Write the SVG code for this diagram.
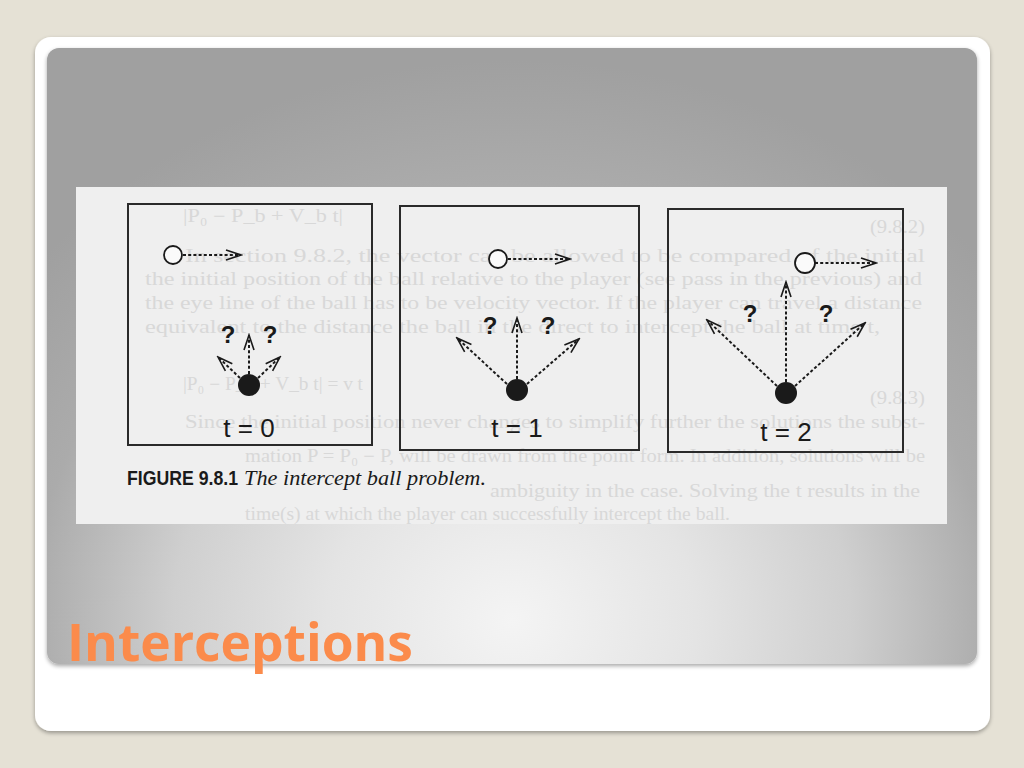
<svg xmlns="http://www.w3.org/2000/svg" width="1024" height="768" viewBox="0 0 1024 768">
<defs>
  <radialGradient id="panelGrad" gradientUnits="userSpaceOnUse" cx="512" cy="620" r="560" gradientTransform="translate(512 620) scale(1.1 1) translate(-512 -620)">
    <stop offset="0" stop-color="#f4f4f4"/>
    <stop offset="0.3" stop-color="#e4e4e4"/>
    <stop offset="0.55" stop-color="#cfcfcf"/>
    <stop offset="0.78" stop-color="#ababab"/>
    <stop offset="1" stop-color="#a0a0a0"/>
  </radialGradient>
  <marker id="open" viewBox="-17 -8 19 16" refX="0" refY="0" markerWidth="19" markerHeight="16" markerUnits="userSpaceOnUse" orient="auto">
    <path d="M-15,-5 L0,0 L-15,5" fill="none" stroke="#1a1a1a" stroke-width="1.6" stroke-dasharray="none" stroke-linejoin="miter"/>
  </marker>
  <filter id="sh" x="-5%" y="-5%" width="110%" height="115%">
    <feGaussianBlur in="SourceAlpha" stdDeviation="2"/>
    <feOffset dy="2" result="b"/>
    <feComponentTransfer><feFuncA type="linear" slope="0.35"/></feComponentTransfer>
    <feMerge><feMergeNode/><feMergeNode in="SourceGraphic"/></feMerge>
  </filter>
  <clipPath id="scanClip"><rect x="76" y="187" width="871" height="337"/></clipPath>
</defs>
<style>
  .box { fill: none; stroke: #2a2a2a; stroke-width: 2; }
  .ball { fill: #fafafa; stroke: #1a1a1a; stroke-width: 1.8; }
  .player { fill: #1a1a1a; }
  .q { font-family: "Liberation Sans", Arial, sans-serif; font-weight: bold; font-size: 24px; fill: #1a1a1a; text-anchor: middle; }
  .t { font-family: "Liberation Sans", Arial, sans-serif; font-size: 26px; fill: #1a1a1a; text-anchor: middle; }
  .arr { fill: none; stroke: #1a1a1a; stroke-width: 2; stroke-dasharray: 3 2.2; marker-end: url(#open); }
  .bleed { font-family: "Liberation Serif", "Times New Roman", serif; font-size: 18px; fill: #d8d8d8; }
</style>

<rect x="0" y="0" width="1024" height="768" fill="#e5e1d5"/>
<rect x="35" y="37" width="955" height="694" rx="16" fill="#ffffff" filter="url(#sh)"/>
<rect x="47" y="48" width="930" height="616" rx="12" fill="url(#panelGrad)" filter="url(#sh)"/>

<g id="scan">
  <rect x="76" y="187" width="871" height="337" fill="#efefef"/>
  <g clip-path="url(#scanClip)">
    <text class="bleed" x="183" y="222" textLength="160" lengthAdjust="spacingAndGlyphs">|P₀ − P_b + V_b t|</text>
    <text class="bleed" x="870" y="233" textLength="55" lengthAdjust="spacingAndGlyphs">(9.8.2)</text>
    <text class="bleed" x="185" y="262" textLength="740" lengthAdjust="spacingAndGlyphs">In section 9.8.2, the vector can be allowed to be compared of the initial</text>
    <text class="bleed" x="145" y="285" textLength="777" lengthAdjust="spacingAndGlyphs">the initial position of the ball relative to the player (see pass in the previous) and</text>
    <text class="bleed" x="145" y="309" textLength="777" lengthAdjust="spacingAndGlyphs">the eye line of the ball has to be velocity vector. If the player can travel a distance</text>
    <text class="bleed" x="145" y="333" textLength="735" lengthAdjust="spacingAndGlyphs">equivalent to the distance the ball in the direct to intercept the ball at time t,</text>
    <text class="bleed" x="183" y="390" textLength="180" lengthAdjust="spacingAndGlyphs">|P₀ − P_b + V_b t| = v t</text>
    <text class="bleed" x="870" y="404" textLength="55" lengthAdjust="spacingAndGlyphs">(9.8.3)</text>
    <text class="bleed" x="185" y="428" textLength="740" lengthAdjust="spacingAndGlyphs">Since the initial position never changes to simplify further the solutions the subst-</text>
    <text class="bleed" x="245" y="462" textLength="680" lengthAdjust="spacingAndGlyphs">mation P = P₀ − P, will be drawn from the point form. In addition, solutions will be</text>
    <text class="bleed" x="490" y="497" textLength="430" lengthAdjust="spacingAndGlyphs">ambiguity in the case. Solving the t results in the</text>
    <text class="bleed" x="245" y="520" textLength="485" lengthAdjust="spacingAndGlyphs">time(s) at which the player can successfully intercept the ball.</text>
  </g>
</g>

<g id="connectors">
  <line class="arr" x1="183" y1="255" x2="241" y2="255"/>
  <line class="arr" x1="249" y1="374" x2="249" y2="335"/>
  <line class="arr" x1="240" y1="378" x2="218" y2="357"/>
  <line class="arr" x1="258" y1="378" x2="280" y2="357"/>

  <line class="arr" x1="508" y1="259" x2="570" y2="259"/>
  <line class="arr" x1="517" y1="379" x2="517" y2="318"/>
  <line class="arr" x1="507" y1="384" x2="457" y2="338"/>
  <line class="arr" x1="527" y1="384" x2="579" y2="339"/>

  <line class="arr" x1="815" y1="263" x2="876" y2="263"/>
  <line class="arr" x1="786" y1="382" x2="786" y2="282"/>
  <line class="arr" x1="777" y1="386" x2="707" y2="320"/>
  <line class="arr" x1="795" y1="386" x2="865" y2="323"/>
</g>

<g id="frame-t0">
  <rect class="box" x="128" y="204" width="244" height="241"/>
  <circle class="ball" cx="173" cy="255" r="9"/>
  <circle class="player" cx="249" cy="385" r="11"/>
  <text class="q" x="228" y="343">?</text>
  <text class="q" x="270" y="343">?</text>
  <text class="t" x="249" y="437">t = 0</text>
</g>

<g id="frame-t1">
  <rect class="box" x="400" y="206" width="239" height="244"/>
  <circle class="ball" cx="498" cy="259" r="9"/>
  <circle class="player" cx="517" cy="390" r="11"/>
  <text class="q" x="490" y="334">?</text>
  <text class="q" x="548" y="334">?</text>
  <text class="t" x="517" y="437">t = 1</text>
</g>

<g id="frame-t2">
  <rect class="box" x="668" y="209" width="235" height="243"/>
  <circle class="ball" cx="805" cy="263" r="10"/>
  <circle class="player" cx="786" cy="393" r="11"/>
  <text class="q" x="750" y="322">?</text>
  <text class="q" x="826" y="322">?</text>
  <text class="t" x="786" y="441">t = 2</text>
</g>

<g id="caption">
  <text x="127" y="485" font-family="'Liberation Sans', Arial, sans-serif" font-weight="bold" font-size="20" fill="#1a1a1a" textLength="111" lengthAdjust="spacingAndGlyphs">FIGURE 9.8.1</text>
  <text x="244" y="485" font-family="'Liberation Serif', 'Times New Roman', serif" font-style="italic" font-size="22" fill="#1a1a1a" textLength="242" lengthAdjust="spacingAndGlyphs">The intercept ball problem.</text>
</g>

<g id="title">
  <text x="67" y="661" font-family="'Open Sans', 'Noto Sans', sans-serif" font-weight="bold" font-size="51.5" fill="#fb8b4b">Interceptions</text>
</g>
</svg>
